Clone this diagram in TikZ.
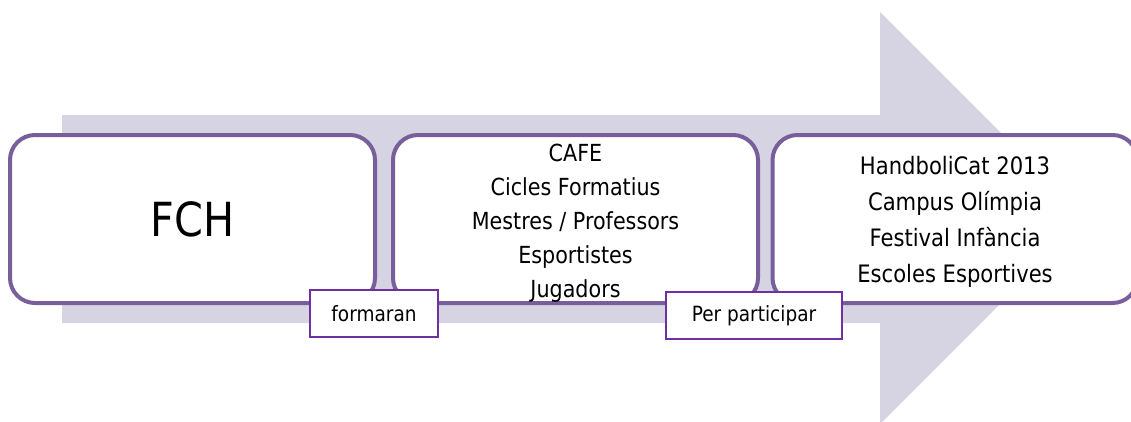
\documentclass[tikz,border=0pt]{standalone}
\usepackage{fontspec}
\setmainfont[FakeStretch=0.88]{DejaVu Sans}
\definecolor{arrowfill}{RGB}{214,211,227}
\definecolor{boxline}{RGB}{120,95,155}
\definecolor{tagline}{RGB}{112,48,160}
\begin{document}
\begin{tikzpicture}[x=1pt,y=-1pt,
  stage/.style={draw=boxline,line width=4pt,fill=white,rounded corners=25pt,
    minimum width=365pt,minimum height=168pt,inner sep=0pt},
  stagetext/.style={inner sep=0pt,align=center},
  tag/.style={draw=tagline,line width=1.6pt,fill=white,inner sep=0pt,
    font=\fontsize{21}{24}\selectfont}]
\useasboundingbox (0,0) rectangle (1131,421);
\fill[arrowfill] (62,115) -- (880,115) -- (880,12) -- (1086,218) -- (880,424) -- (880,323) -- (62,323) -- cycle;
\node[stage] (fch) at (192.5,219) {};
\node[stage] (cafe) at (575.5,219) {};
\node[stage] (hc) at (955,219) {};
\node[stagetext,font=\fontsize{47}{50}\selectfont] (fcht) at (192.5,219) {FCH};
\node[stagetext,font=\fontsize{23.5}{34}\selectfont] (cafet) at (575.5,223)
  {CAFE\\Cicles Formatius\\Mestres / Professors\\Esportistes\\Jugadors};
\node[stagetext,font=\fontsize{24}{36}\selectfont] (hct) at (955,222)
  {HandboliCat 2013\\Campus Olímpia\\Festival Infància\\Escoles Esportives};
\node[tag,minimum width=128pt,minimum height=47pt] (f) at (374,313.5) {formaran};
\node[tag,minimum width=176pt,minimum height=47pt] (p) at (754,315.5) {Per participar};
\end{tikzpicture}
\end{document}
